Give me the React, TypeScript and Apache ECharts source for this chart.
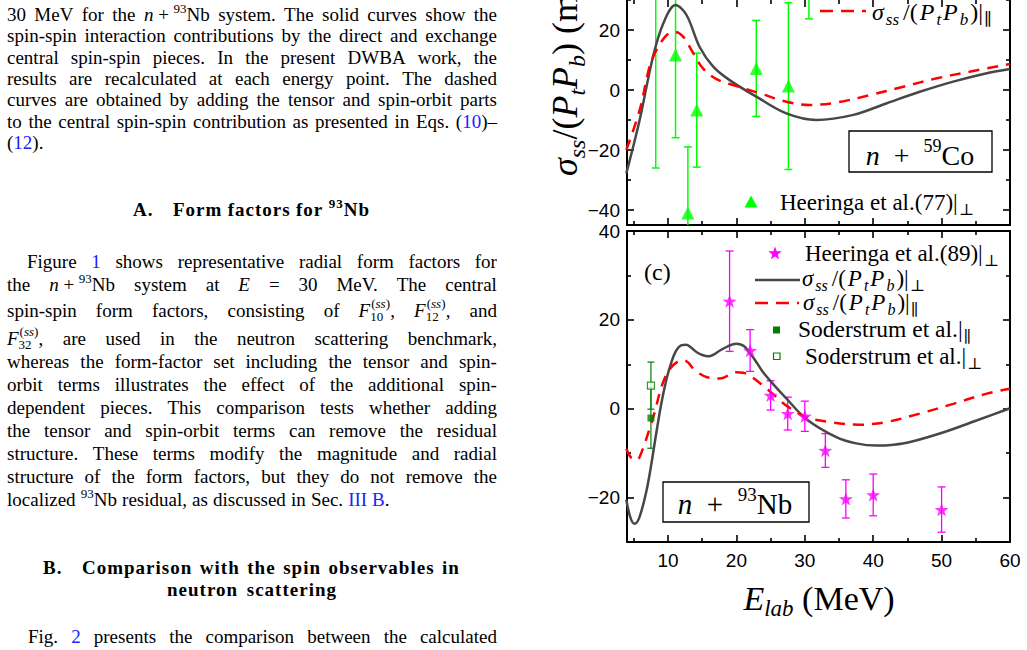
import React, { useEffect, useRef } from "react";
import * as echarts from "echarts";

// ---------------- axis ticks ----------------
const X_MIN = 4;
const X_MAX = 60;
const xMajorTicks = [10, 20, 30, 40, 50, 60];
const xMinorTicks = [5, 15, 25, 35, 45, 55];
const xTickLabels = [10, 20, 30, 40, 50, 60];
const coYMin = -45;
const coYMax = 30;
const coYMajorTicks = [-40, -20, 0, 20];
const coYMinorTicks = [-30, -10, 10, 30];
const coYTickLabels = [-40, -20, 0, 20];
const nbYMin = -30;
const nbYMax = 40;
const nbYMajorTicks = [-20, 0, 20, 40];
const nbYMinorTicks = [-30, -10, 10, 30];
const nbYTickLabels = [-20, 0, 20, 40];

// ---------------- n + 59Co (upper panel) ----------------
const coSolidE = [3.9, 5.85, 7.8, 9.3, 11.1, 12.7, 14.6, 16.6, 19.0, 22.9, 27.3, 31.7, 37.1, 42, 46.8, 51.7, 56.6, 60];
const coSolidV = [-27.8, -10, 11.1, 22.2, 28.3, 25, 14.4, 7.8, 3.3, -2.2, -7.8, -10, -8.3, -4.4, -0.6, 2.8, 5.6, 7];
const coDashE = [3.9, 5.85, 7.3, 8.3, 9.8, 11.0, 12.2, 13.7, 15.1, 17.1, 20, 23.4, 27.3, 30.7, 34.6, 39.5, 44.4, 49.3, 54.1, 60];
const coDashV = [-20, -6.7, 7.8, 13.3, 18.3, 19.4, 17.8, 12.2, 7.2, 3.6, 1.3, -1.1, -3.9, -5, -4.2, -1.7, 1.1, 3.9, 6.1, 8.7];
const heer77E = [8.2, 11.1, 12.9, 14.2, 22.9, 27.6, 30.6];
const heer77V = [38, 11.7, -41, -6.7, 7.2, 1.3, 44];
const heer77Err = [64, 27.6, 22, 19, 16, 27.8, 20.3];

// ---------------- n + 93Nb (lower panel) ----------------
const nbSolidE = [3.9, 4.5, 5.1, 5.8, 6.8, 7.5, 8.3, 9.0, 9.8, 10.5, 11.2, 12.0, 12.7, 13.5, 14.2, 15.0, 15.9, 16.8, 17.6, 18.8, 20, 21, 21.7, 23, 23.9, 25.5, 27.3, 30.2, 34.6, 37.5, 40.5, 43, 45.4, 50.3, 55.2, 60];
const nbSolidV = [-20.5, -24.5, -25.9, -24.5, -18.8, -13, -5.3, 1, 6.8, 10.5, 13.1, 14.3, 14.4, 13.6, 12.7, 12.1, 11.8, 12.3, 13.1, 14.1, 14.6, 14.2, 13.1, 10.3, 8.2, 5.3, 2.3, -2.3, -6.4, -7.8, -8.3, -8.1, -7.5, -5.3, -2.6, 0.1];
const nbDashE = [3.9, 4.6, 5.4, 6.2, 7.3, 8.1, 8.8, 9.5, 10.3, 11.3, 12.3, 13.0, 13.7, 14.7, 15.7, 17.6, 19, 20, 21, 21.9, 23.9, 25.5, 27.3, 30.2, 33.6, 38, 41.9, 46.8, 51.7, 56.6, 60];
const nbDashV = [-9.0, -11, -11.6, -9.5, -4.5, -0.5, 3.7, 6.8, 9.0, 10.5, 10.9, 10.3, 9.0, 7.8, 7.1, 6.8, 7.6, 8.2, 8.1, 7.5, 5.2, 3.1, 0.7, -1.9, -3.0, -3.6, -3.0, -1.1, 1.1, 3.4, 4.5];
const heer89E = [19, 22, 25, 27.5, 30, 33, 36, 40, 50];
const heer89V = [24.2, 13.1, 3.0, -1.1, -1.7, -9.4, -20.3, -19.4, -22.7];
const heer89Err = [11.3, 4.7, 3.3, 3.7, 3.4, 3.8, 4.3, 4.7, 5.1];
const soderParE = [7.5];
const soderParV = [-2.1];
const soderParErr = [6.8];
const soderPerpE = [7.5];
const soderPerpV = [5.2];
const soderPerpErr = [5.3];

// ---------------- styling ----------------
const SERIF = '"Liberation Serif", "Times New Roman", "DejaVu Serif", serif';
const SANS = '"Liberation Sans", Arial, sans-serif';
const BLACK_CURVE = "#474747";
const RED = "#ff0000";
const LIME = "#00ff00";
const MAGENTA = "#ff00ff";
const DKGREEN = "#008000";
const STAR_PATH =
  "path://M0,-10L2.35,-3.24L9.51,-3.09L3.8,1.24L5.88,8.09L0,4L-5.88,8.09L-3.8,1.24L-9.51,-3.09L-2.35,-3.24Z";

const zip = (xs: number[], ys: number[]) => xs.map((x, i) => [x, ys[i]]);
const zip3 = (xs: number[], ys: number[], es: number[]) => xs.map((x, i) => [x, ys[i], es[i]]);
const minus = (v: number) => String(v).replace("-", "\u2212");

function xAx(gridIndex: number, position: string, ticks: number[], len: number, showLine: boolean, labels?: number[]) {
  return {
    type: "value",
    gridIndex,
    position,
    min: X_MIN,
    max: X_MAX,
    axisLine: { show: showLine, onZero: false, lineStyle: { color: "#000", width: 2 } },
    axisTick: { show: true, inside: true, length: len, customValues: ticks, lineStyle: { color: "#000", width: 1.6 } },
    axisLabel: labels
      ? { show: true, customValues: labels, color: "#000", fontFamily: SANS, fontSize: 19, margin: 9 }
      : { show: false },
    splitLine: { show: false },
  };
}

function yAx(gridIndex: number, position: string, min: number, max: number, ticks: number[], len: number, showLine: boolean, labels?: number[]) {
  return {
    type: "value",
    gridIndex,
    position,
    min,
    max,
    axisLine: { show: showLine, onZero: false, lineStyle: { color: "#000", width: 2 } },
    axisTick: { show: true, inside: true, length: len, customValues: ticks, lineStyle: { color: "#000", width: 1.6 } },
    axisLabel: labels
      ? { show: true, customValues: labels, color: "#000", fontFamily: SANS, fontSize: 19, margin: 7, formatter: minus }
      : { show: false },
    splitLine: { show: false },
  };
}

function errorBars(data: number[][], color: string, lw: number, capHalf: number, xi: number, yi: number, yMin: number, yMax: number) {
  return {
    type: "custom",
    xAxisIndex: xi,
    yAxisIndex: yi,
    silent: true,
    z: 3,
    encode: { x: 0, y: 1 },
    data,
    renderItem: (params: any, api: any) => {
      const x = api.value(0);
      const v = api.value(1);
      const e = api.value(2);
      const hi = v + e;
      const lo = v - e;
      const p1 = api.coord([x, Math.min(hi, yMax)]);
      const p2 = api.coord([x, Math.max(lo, yMin)]);
      const st = { stroke: color, lineWidth: lw };
      const children: any[] = [
        { type: "line", shape: { x1: p1[0], y1: p1[1], x2: p2[0], y2: p2[1] }, style: st },
      ];
      if (hi <= yMax) children.push({ type: "line", shape: { x1: p1[0] - capHalf, y1: p1[1], x2: p1[0] + capHalf, y2: p1[1] }, style: st });
      if (lo >= yMin) children.push({ type: "line", shape: { x1: p2[0] - capHalf, y1: p2[1], x2: p2[0] + capHalf, y2: p2[1] }, style: st });
      return { type: "group", children };
    },
  };
}

function mathRich(size: number, padded: boolean) {
  const lh = Math.round(size * 1.3);
  const s = Math.round(size * (padded ? 0.7 : 0.68));
  const pad = padded ? Math.max(1, Math.round(size * 0.08)) : 0;
  return {
    rm: { fontFamily: SERIF, fontSize: size, lineHeight: lh, fill: "#000" },
    rmp: { fontFamily: SERIF, fontSize: size, lineHeight: lh, fill: "#000", padding: [0, pad, 0, pad] },
    it: { fontFamily: SERIF, fontStyle: "italic", fontSize: size, lineHeight: lh, fill: "#000", padding: [0, padded ? 1 : 0, 0, 0] },
    sub: { fontFamily: SERIF, fontStyle: "italic", fontSize: s, lineHeight: s, verticalAlign: "bottom", fill: "#000", padding: [0, pad, 0, padded ? 1 : 0] },
    subr: { fontFamily: SERIF, fontSize: s, lineHeight: s, verticalAlign: "bottom", fill: "#000", padding: [0, 0, 0, 1] },
    sup: { fontFamily: SERIF, fontSize: Math.round(size * 0.66), lineHeight: Math.round(size * 0.66), verticalAlign: "top", fill: "#000" },
  };
}

function mtext(x: number, y: number, text: string, size: number, align = "left", extra: any = {}, padded = true) {
  return {
    type: "text",
    x,
    y,
    z: 100,
    ...extra,
    style: { text, align, verticalAlign: "middle", rich: mathRich(size, padded), fontFamily: SERIF, fontSize: size, fill: "#000" },
  };
}

function starPoints(cx: number, cy: number, R: number, r: number) {
  const pts: number[][] = [];
  for (let i = 0; i < 10; i++) {
    const a = -Math.PI / 2 + (i * Math.PI) / 5;
    const rad = i % 2 === 0 ? R : r;
    pts.push([cx + rad * Math.cos(a), cy + rad * Math.sin(a)]);
  }
  return pts;
}

const SIG_PERP = "{it|σ}{sub|ss}{rmp|/(}{it|P}{sub|t}{it|P}{sub|b}{rm|)|}{subr|⊥}";
const SIG_PAR = "{it|σ}{sub|ss}{rmp|/(}{it|P}{sub|t}{it|P}{sub|b}{rm|)|}{subr|∥}";

function buildOption() {
  const graphic: any[] = [
    // y-axis title (rotated)
    mtext(565, 176, "{it|σ}{sub|ss}{rm|/(}{it|P}{sub|t}{it|P}{sub|b}{rm|) (mb)}", 36, "left", { rotation: Math.PI / 2 }, false),
    // x-axis title
    mtext(819, 598, "{it|E}{sub|lab}{rm| (MeV)}", 34, "center", {}, false),
    // upper legend
    { type: "line", z: 100, shape: { x1: 820, y1: 11, x2: 866, y2: 11 }, style: { stroke: RED, lineWidth: 2.5, lineDash: [13, 8] } },
    mtext(872, 12, SIG_PAR, 24),
    { type: "polygon", z: 100, shape: { points: [[751, 195.5], [744.5, 207.5], [757.5, 207.5]] }, style: { fill: LIME } },
    mtext(780, 202, "{rm|Heeringa et al.(77)|}{subr|⊥}", 23),
    // upper box
    { type: "rect", z: 99, shape: { x: 849, y: 131, width: 143, height: 41 }, style: { fill: "#fff", stroke: "#000", lineWidth: 1.3 } },
    mtext(920, 155, "{it|n}{rm|  +  }{sup|59}{rm|Co}", 28, "center", {}, false),
    // lower panel label
    mtext(644, 272, "{rm|(c)}", 24),
    // lower legend
    { type: "polygon", z: 100, shape: { points: starPoints(775, 253.5, 7, 2.9) }, style: { fill: MAGENTA } },
    mtext(805, 253, "{rm|Heeringa et al.(89)|}{subr|⊥}", 23),
    { type: "line", z: 100, shape: { x1: 755, y1: 280, x2: 800, y2: 280 }, style: { stroke: BLACK_CURVE, lineWidth: 2.5 } },
    mtext(802, 278, SIG_PERP, 23),
    { type: "line", z: 100, shape: { x1: 755, y1: 303, x2: 799, y2: 303 }, style: { stroke: RED, lineWidth: 2.5, lineDash: [13, 8] } },
    mtext(803, 302, SIG_PAR, 23),
    { type: "rect", z: 100, shape: { x: 773, y: 326.5, width: 7, height: 7 }, style: { fill: DKGREEN } },
    mtext(798, 329, "{rm|Soderstrum et al.|}{subr|∥}", 23.5),
    { type: "rect", z: 100, shape: { x: 773.5, y: 353, width: 6.5, height: 6.5 }, style: { fill: "#fff", stroke: DKGREEN, lineWidth: 1.2 } },
    mtext(805, 356, "{rm|Soderstrum et al.|}{subr|⊥}", 23),
    // lower box
    { type: "rect", z: 99, shape: { x: 663, y: 482, width: 146, height: 40 }, style: { fill: "#fff", stroke: "#000", lineWidth: 1.3 } },
    mtext(735, 504, "{it|n}{rm|  +  }{sup|93}{rm|Nb}", 29, "center", {}, false),
  ];

  return {
    animation: false,
    backgroundColor: "#fff",
    grid: [
      { left: 627, top: 0, width: 383, height: 225 },
      { left: 627, top: 231, width: 383, height: 311 },
    ],
    xAxis: [
      xAx(0, "bottom", xMajorTicks, 7, true),
      xAx(0, "bottom", xMinorTicks, 4, false),
      xAx(0, "top", xMajorTicks, 7, false),
      xAx(0, "top", xMinorTicks, 4, false),
      xAx(1, "bottom", xMajorTicks, 7, true, xTickLabels),
      xAx(1, "bottom", xMinorTicks, 4, false),
      xAx(1, "top", xMajorTicks, 7, true),
      xAx(1, "top", xMinorTicks, 4, false),
    ],
    yAxis: [
      yAx(0, "left", coYMin, coYMax, coYMajorTicks, 7, true, coYTickLabels),
      yAx(0, "left", coYMin, coYMax, coYMinorTicks, 4, false),
      yAx(0, "right", coYMin, coYMax, coYMajorTicks, 7, true),
      yAx(0, "right", coYMin, coYMax, coYMinorTicks, 4, false),
      yAx(1, "left", nbYMin, nbYMax, nbYMajorTicks, 7, true, nbYTickLabels),
      yAx(1, "left", nbYMin, nbYMax, nbYMinorTicks, 4, false),
      yAx(1, "right", nbYMin, nbYMax, nbYMajorTicks, 7, true),
      yAx(1, "right", nbYMin, nbYMax, nbYMinorTicks, 4, false),
    ],
    series: [
      // upper
      { type: "line", xAxisIndex: 0, yAxisIndex: 0, data: zip(coSolidE, coSolidV), smooth: 0.35, symbol: "none", lineStyle: { color: BLACK_CURVE, width: 2.5 }, z: 4 },
      { type: "line", xAxisIndex: 0, yAxisIndex: 0, data: zip(coDashE, coDashV), smooth: 0.35, symbol: "none", lineStyle: { color: RED, width: 2.5, type: [11, 8] }, z: 5 },
      errorBars(zip3(heer77E, heer77V, heer77Err), LIME, 1.5, 4, 0, 0, coYMin, coYMax),
      { type: "scatter", xAxisIndex: 0, yAxisIndex: 0, data: zip(heer77E, heer77V), symbol: "triangle", symbolSize: 13, itemStyle: { color: LIME }, z: 6 },
      // lower
      { type: "line", xAxisIndex: 4, yAxisIndex: 4, data: zip(nbSolidE, nbSolidV), smooth: 0.35, symbol: "none", lineStyle: { color: BLACK_CURVE, width: 2.5 }, z: 4 },
      { type: "line", xAxisIndex: 4, yAxisIndex: 4, data: zip(nbDashE, nbDashV), smooth: 0.35, symbol: "none", lineStyle: { color: RED, width: 2.5, type: [11, 8] }, z: 5 },
      errorBars(zip3(heer89E, heer89V, heer89Err), MAGENTA, 1.3, 4, 4, 4, nbYMin, nbYMax),
      { type: "scatter", xAxisIndex: 4, yAxisIndex: 4, data: zip(heer89E, heer89V), symbol: STAR_PATH, symbolKeepAspect: true, symbolSize: 14, itemStyle: { color: MAGENTA }, z: 6 },
      errorBars(zip3(soderPerpE, soderPerpV, soderPerpErr), DKGREEN, 1.2, 3.5, 4, 4, nbYMin, nbYMax),
      errorBars(zip3(soderParE, soderParV, soderParErr), DKGREEN, 1.2, 3.5, 4, 4, nbYMin, nbYMax),
      { type: "scatter", xAxisIndex: 4, yAxisIndex: 4, data: zip(soderParE, soderParV), symbol: "rect", symbolSize: 7, itemStyle: { color: DKGREEN }, z: 6 },
      { type: "scatter", xAxisIndex: 4, yAxisIndex: 4, data: zip(soderPerpE, soderPerpV), symbol: "rect", symbolSize: 7, itemStyle: { color: "#fff", borderColor: DKGREEN, borderWidth: 1.2 }, z: 6 },
    ],
    graphic,
  };
}

// ---------------- left text column (HTML) ----------------
const LINK = "#2020ff";
const w = (s: string) => s.split(" ");
const Sup = ({ c }: { c: string }) => (
  <span style={{ fontSize: 13, position: "relative", top: -8 }}>{c}</span>
);
const Lk = ({ c }: { c: string }) => <span style={{ color: LINK }}>{c}</span>;
const NNb = (
  <span>
    <i>n</i> + <Sup c="93" />Nb
  </span>
);
const F = (sub: string) => (
  <span>
    <i>F</i>
    <span style={{ display: "inline-block", position: "relative", width: 20, height: 0 }}>
      <span style={{ position: "absolute", left: 1, bottom: 7, fontSize: 13, lineHeight: "13px" }}>
        (<i>ss</i>)
      </span>
      <span style={{ position: "absolute", left: 0, top: -7, fontSize: 13, lineHeight: "13px" }}>{sub}</span>
    </span>
  </span>
);

function JLine({ y, left = 7, right = 497, justify = true, words, bold = false }: any) {
  return (
    <div
      style={{
        position: "absolute",
        top: y - 12,
        left,
        width: right - left,
        height: 24,
        lineHeight: "24px",
        display: "flex",
        justifyContent: justify ? "space-between" : "flex-start",
        columnGap: justify ? 0 : "0.27em",
        whiteSpace: "nowrap",
        alignItems: "baseline",
        fontWeight: bold ? 700 : 400,
        letterSpacing: bold ? "1px" : "normal",
      }}
    >
      {words.map((x: any, i: number) => (
        <span key={i}>{x}</span>
      ))}
    </div>
  );
}

function TextColumn() {
  return (
    <div
      style={{
        position: "absolute",
        left: 0,
        top: 0,
        width: 520,
        height: 650,
        fontFamily: SERIF,
        fontSize: 19,
        color: "#000",
      }}
    >
      <JLine y={15} words={[...w("30 MeV for the"), NNb, ...w("system. The solid curves show the")]} />
      <JLine y={36.3} words={w("spin-spin interaction contributions by the direct and exchange")} />
      <JLine y={57.7} words={w("central spin-spin pieces. In the present DWBA work, the")} />
      <JLine y={79} words={w("results are recalculated at each energy point. The dashed")} />
      <JLine y={100} words={w("curves are obtained by adding the tensor and spin-orbit parts")} />
      <JLine
        y={121.7}
        words={[...w("to the central spin-spin contribution as presented in Eqs."), <>(<Lk c="10" />)–</>]}
      />
      <JLine y={142.7} justify={false} words={[<>(<Lk c="12" />).</>]} />

      <JLine y={210} left={133} right={160} justify={false} bold words={["A."]} />
      <JLine y={210} left={173} right={370} bold words={[...w("Form factors for"), <><Sup c="93" />Nb</>]} />

      <JLine y={261.7} left={27} words={["Figure", <Lk c="1" />, ...w("shows representative radial form factors for")]} />
      <JLine y={285} words={["the", NNb, "system", "at", <i>E</i>, "=", "30", "MeV.", "The", "central"]} />
      <JLine y={310.7} words={[...w("spin-spin form factors, consisting of"), <>{F("10")},</>, <>{F("12")},</>, "and"]} />
      <JLine y={339} words={[<>{F("32")},</>, ...w("are used in the neutron scattering benchmark,")]} />
      <JLine y={362.3} words={w("whereas the form-factor set including the tensor and spin-")} />
      <JLine y={385} words={w("orbit terms illustrates the effect of the additional spin-")} />
      <JLine y={408.3} words={w("dependent pieces. This comparison tests whether adding")} />
      <JLine y={430.7} words={w("the tensor and spin-orbit terms can remove the residual")} />
      <JLine y={454} words={w("structure. These terms modify the magnitude and radial")} />
      <JLine y={477.3} words={w("structure of the form factors, but they do not remove the")} />
      <JLine
        y={500}
        justify={false}
        words={["localized", <><Sup c="93" />Nb</>, ...w("residual, as discussed in Sec."), <><Lk c="III B" />.</>]}
      />

      <JLine y={568.3} left={43} right={70} justify={false} bold words={["B."]} />
      <JLine y={568.3} left={82} right={460} bold words={w("Comparison with the spin observables in")} />
      <JLine y={590} left={167} right={337} bold words={w("neutron scattering")} />

      <JLine y={636.7} left={28} words={["Fig.", <Lk c="2" />, ...w("presents the comparison between the calculated")]} />
    </div>
  );
}

export default function App() {
  const ref = useRef<HTMLDivElement>(null);
  useEffect(() => {
    if (!ref.current) return;
    const chart = echarts.init(ref.current, null, { renderer: "svg" });
    chart.setOption(buildOption() as any);
    return () => chart.dispose();
  }, []);
  return (
    <div style={{ position: "absolute", left: 0, top: 0, width: 1027, height: 650, background: "#fff", overflow: "hidden" }}>
      <div ref={ref} style={{ position: "absolute", left: 0, top: 0, width: 1027, height: 650 }} />
      <TextColumn />
    </div>
  );
}
